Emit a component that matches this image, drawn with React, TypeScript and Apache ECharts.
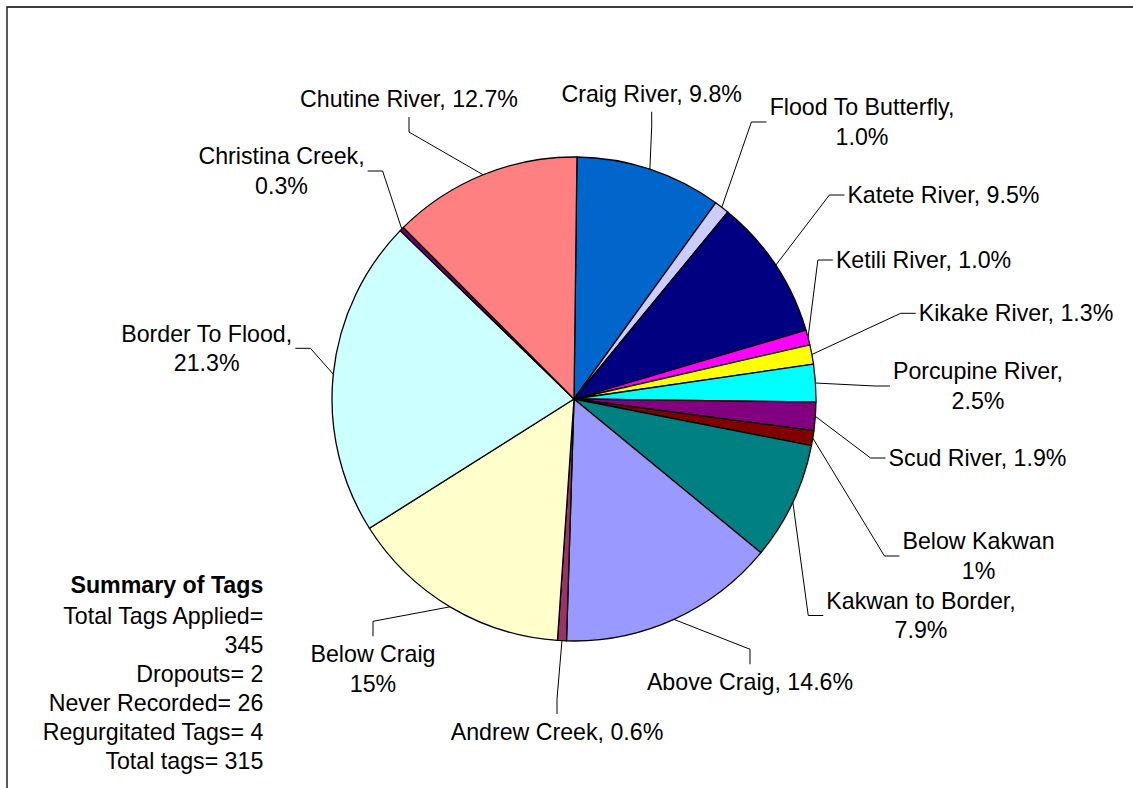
import React, { useEffect, useRef } from 'react';
import * as echarts from 'echarts';

// ---- data ----
const CATEGORIES = [
  'Craig River',
  'Flood To Butterfly',
  'Katete River',
  'Ketili River',
  'Kikake River',
  'Porcupine River',
  'Scud River',
  'Below Kakwan',
  'Kakwan to Border',
  'Above Craig',
  'Andrew Creek',
  'Below Craig',
  'Border To Flood',
  'Christina Creek',
  'Chutine River',
];
const VALUES = [9.8, 1.0, 9.5, 1.0, 1.3, 2.5, 1.9, 1.0, 7.9, 14.6, 0.6, 15, 21.3, 0.3, 12.7];
const VALUE_LABELS = ['9.8%', '1.0%', '9.5%', '1.0%', '1.3%', '2.5%', '1.9%', '1%', '7.9%', '14.6%', '0.6%', '15%', '21.3%', '0.3%', '12.7%'];
const LABEL_SEPARATORS = [', ', ',\n', ', ', ', ', ', ', ',\n', ', ', '\n', ',\n', ', ', ', ', '\n', ',\n', ',\n', ', '];
const SUMMARY_TITLE = 'Summary of Tags';
const SUMMARY_LINES = ['Total Tags Applied=', '345', 'Dropouts= 2', 'Never Recorded= 26', 'Regurgitated Tags= 4', 'Total tags= 315'];

// ---- styles / layout ----
const COLORS = [
  '#0066CC', '#CCCCFF', '#000080', '#FF00FF', '#FFFF00', '#00FFFF', '#800080', '#800000',
  '#008080', '#9999FF', '#993366', '#FFFFCC', '#CCFFFF', '#660066', '#FF8080',
];
// label block centres (layout of the data labels, in px)
const LABEL_CENTERS: [number, number][] = [
  [651.7, 94],
  [862, 122],
  [943.4, 195],
  [923.5, 260],
  [1016, 313.3],
  [978, 386],
  [977.5, 458],
  [978.5, 556],
  [921, 615.5],
  [750, 682],
  [557, 731.7],
  [373, 668.8],
  [206.7, 348.3],
  [281.5, 171],
  [409, 99.3],
];
const PIE_CX = 574;
const PIE_CY = 399;
const PIE_R = 242;
const FONT = '"Liberation Sans", Arial, Helvetica, sans-serif';
const FONT_SIZE = 23.2;
const LINE_H = 29.5;
const GAP = 3;
const SEG = 15;

export default function App() {
  const ref = useRef<HTMLDivElement>(null);

  useEffect(() => {
    if (!ref.current) return;
    const chart = echarts.init(ref.current, undefined, { renderer: 'svg' });

    const data = CATEGORIES.map((name, i) => ({
      name,
      value: VALUES[i],
      itemStyle: { color: COLORS[i] },
    }));

    const option: any = {
      animation: false,
      backgroundColor: '#ffffff',
      graphic: [
        {
          type: 'rect',
          shape: { x: 7, y: 7, width: 1400, height: 1000 },
          style: { fill: 'none', stroke: '#000', lineWidth: 1.3 },
          silent: true,
        },
        {
          type: 'text',
          x: 263.3,
          y: 585 - LINE_H / 2,
          style: {
            text: SUMMARY_TITLE,
            align: 'right',
            verticalAlign: 'top',
            fontFamily: FONT,
            fontSize: FONT_SIZE,
            fontWeight: 'bold',
            lineHeight: LINE_H,
            fill: '#000',
          },
          silent: true,
        },
        {
          type: 'text',
          x: 263.3,
          y: 615.7 - 29.06 / 2,
          style: {
            text: SUMMARY_LINES.join('\n'),
            align: 'right',
            verticalAlign: 'top',
            fontFamily: FONT,
            fontSize: FONT_SIZE,
            lineHeight: 29.06,
            fill: '#000',
          },
          silent: true,
        },
      ],
      series: [
        {
          type: 'pie',
          center: [PIE_CX, PIE_CY],
          radius: PIE_R,
          startAngle: 89.3,
          clockwise: true,
          avoidLabelOverlap: false,
          silent: true,
          emphasis: { scale: false },
          itemStyle: { borderColor: '#000', borderWidth: 1.3 },
          label: {
            show: true,
            position: 'outside',
            color: '#000',
            fontFamily: FONT,
            fontSize: FONT_SIZE,
            lineHeight: LINE_H,
            formatter: (p: any) => CATEGORIES[p.dataIndex] + LABEL_SEPARATORS[p.dataIndex] + VALUE_LABELS[p.dataIndex],
          },
          labelLine: {
            show: true,
            smooth: false,
            lineStyle: { color: '#000', width: 1 },
          },
          labelLayout: (params: any) => {
            const i = params.dataIndex;
            const [cx, cy] = LABEL_CENTERS[i];
            const w = params.labelRect.width;
            const h = params.labelRect.height;
            const dx = cx - PIE_CX;
            const dy = cy - PIE_CY;
            let p2: number[];
            let n: number[];
            if (Math.abs(dy) > Math.abs(dx)) {
              if (dy < 0) { p2 = [cx, cy + h / 2 + GAP]; n = [0, 1]; }
              else { p2 = [cx, cy - h / 2 - GAP]; n = [0, -1]; }
            } else {
              if (dx > 0) { p2 = [cx - w / 2 - GAP, cy]; n = [-1, 0]; }
              else { p2 = [cx + w / 2 + GAP, cy]; n = [1, 0]; }
            }
            const p1 = [p2[0] + n[0] * SEG, p2[1] + n[1] * SEG];
            const pts = params.labelLinePoints;
            const res: any = { x: cx, y: cy, align: 'center', verticalAlign: 'middle' };
            if (pts && pts[0]) res.labelLinePoints = [pts[0], p1, p2];
            return res;
          },
          data,
        },
      ],
    };

    chart.setOption(option);
    return () => chart.dispose();
  }, []);

  return (
    <div
      ref={ref}
      style={{ position: 'absolute', left: 0, top: 0, width: 1133, height: 788, background: '#fff' }}
    />
  );
}
